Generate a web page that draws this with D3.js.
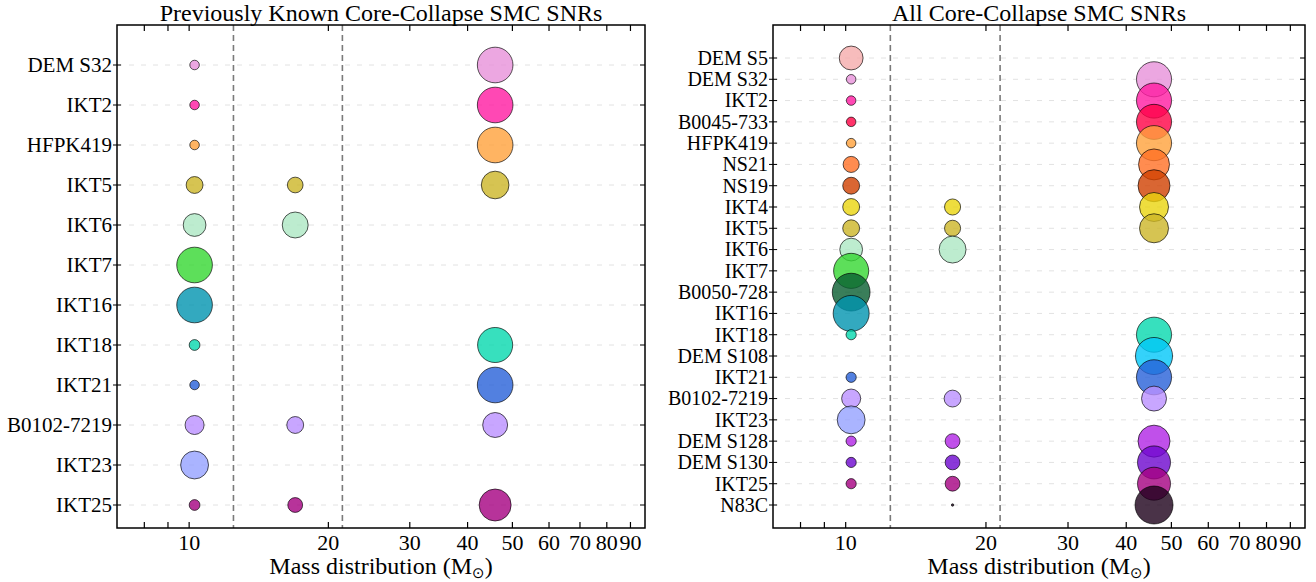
<!DOCTYPE html>
<html>
<head>
<meta charset="utf-8">
<script src="https://cdn.jsdelivr.net/npm/d3@7"></script>
<style>
  body { margin: 0; background: #fff; }
  svg text { font-family: "Liberation Serif", "DejaVu Serif", serif; fill: #000; }
</style>
</head>
<body>
<div id="chart"></div>
<script>
// mass bins (x position of each bubble column) and the bin boundaries
const massBins = [10.3, 17.0, 46.0];
const binEdges = [12.5, 21.5];
const xTicks = [10, 20, 30, 40, 50, 60, 70, 80, 90];
const xMinorTicks = [8, 9];

// left panel: previously known SNRs, fraction in each bin (area of bubble)
const knownNames = ["DEM S32", "IKT2", "HFPK419", "IKT5", "IKT6", "IKT7", "IKT16",
  "IKT18", "IKT21", "B0102-7219", "IKT23", "IKT25"];
const knownLow  = [0.07, 0.07, 0.07, 0.22, 0.40, 0.98, 0.98, 0.09, 0.07, 0.28, 0.60, 0.09];
const knownMid  = [0,    0,    0,    0.19, 0.52, 0,    0,    0,    0,    0.22, 0,    0.17];
const knownHigh = [0.98, 0.98, 0.98, 0.59, 0,    0,    0,    0.95, 0.98, 0.48, 0,    0.79];

// right panel: all core-collapse SNRs
const allNames = ["DEM S5", "DEM S32", "IKT2", "B0045-733", "HFPK419", "NS21", "NS19",
  "IKT4", "IKT5", "IKT6", "IKT7", "B0050-728", "IKT16", "IKT18", "DEM S108", "IKT21",
  "B0102-7219", "IKT23", "DEM S128", "DEM S130", "IKT25", "N83C"];
const allLow  = [0.44, 0.07, 0.07, 0.07, 0.07, 0.20, 0.22, 0.22, 0.22, 0.40, 0.95, 1.10,
  1.00, 0.08, 0, 0.08, 0.28, 0.60, 0.08, 0.08, 0.08, 0];
const allMid  = [0, 0, 0, 0, 0, 0, 0, 0.20, 0.20, 0.56, 0, 0,
  0, 0, 0, 0, 0.22, 0, 0.17, 0.17, 0.17, 0.003];
const allHigh = [0, 0.95, 0.95, 0.95, 0.95, 0.74, 0.79, 0.65, 0.65, 0, 0, 0,
  0, 0.95, 1.06, 0.95, 0.48, 0, 0.79, 0.84, 0.84, 1.11];

// colour of each SNR as it appears on white
const palette = {
  "DEM S5": "#f7bcbc", "DEM S32": "#eca7e1", "IKT2": "#ff48b4", "B0045-733": "#ff2d6a",
  "HFPK419": "#ffb462", "NS21": "#ff8c50", "NS19": "#d96632", "IKT4": "#eedd3e",
  "IKT5": "#d6c452", "IKT6": "#bdeccf", "IKT7": "#5ddf5a", "B0050-728": "#3a7e5a",
  "IKT16": "#31a9bf", "IKT18": "#37e0be", "DEM S108": "#34d2fa", "IKT21": "#5280e0",
  "B0102-7219": "#c8a6ff", "IKT23": "#aab4ff", "DEM S128": "#c050ea", "DEM S130": "#8a38d8",
  "IKT25": "#b7329a", "N83C": "#4a3048"
};
const alpha = 0.8;
// turn the on-white colour back into the colour that gives it at this alpha
const baseColor = c => {
  const r = d3.rgb(c);
  const f = v => Math.max(0, Math.min(255, (v - 255 * (1 - alpha)) / alpha));
  return d3.rgb(f(r.r), f(r.g), f(r.b)).formatHex();
};

const svg = d3.select("#chart").append("svg")
    .attr("width", 1316)
    .attr("height", 582);

const rScale = d3.scaleSqrt().domain([0, 1]).range([0, 18]);

function drawPanel(opts) {
  const width = opts.width, height = opts.height;
  const g = svg.append("g")
      .attr("transform", "translate(" + opts.left + "," + opts.top + ")");

  const xScale = d3.scaleLog().domain([7, 97]).range([0, width]);
  const yScale = d3.scalePoint().domain(opts.names)
      .range([opts.padTop, height - opts.padBottom]);

  // horizontal grid lines
  g.append("g").selectAll("line")
    .data(opts.names)
    .join("line")
      .attr("x1", 0).attr("x2", width)
      .attr("y1", d => yScale(d)).attr("y2", d => yScale(d))
      .attr("stroke", "#e2e2e2")
      .attr("stroke-width", 1)
      .attr("stroke-dasharray", "5,7");

  // bin boundaries
  g.append("g").selectAll("line")
    .data(binEdges)
    .join("line")
      .attr("x1", d => xScale(d)).attr("x2", d => xScale(d))
      .attr("y1", 0).attr("y2", height)
      .attr("stroke", "#7a7a7a")
      .attr("stroke-width", 1.6)
      .attr("stroke-dasharray", "6,4");

  // bubbles
  const points = [];
  opts.names.forEach((n, i) => {
    [opts.low[i], opts.mid[i], opts.high[i]].forEach((v, j) => {
      if (v > 0) points.push({name: n, mass: massBins[j], value: v});
    });
  });
  g.append("g").selectAll("circle")
    .data(points)
    .join("circle")
      .attr("cx", d => xScale(d.mass))
      .attr("cy", d => yScale(d.name))
      .attr("r", d => Math.max(1.2, rScale(d.value)))
      .attr("fill", d => baseColor(palette[d.name]))
      .attr("fill-opacity", alpha)
      .attr("stroke", "#000")
      .attr("stroke-opacity", 0.65)
      .attr("stroke-width", 1);

  // bottom axis, ticks pointing in
  g.append("g")
      .attr("class", "x axis")
      .attr("transform", "translate(0," + height + ")")
      .call(d3.axisBottom(xScale).tickValues(xTicks).tickFormat(d3.format("d"))
        .tickSize(-6).tickPadding(6));
  g.append("g")
      .attr("transform", "translate(0," + height + ")")
      .call(d3.axisBottom(xScale).tickValues(xMinorTicks).tickFormat("").tickSize(-6));
  g.append("g")
      .call(d3.axisTop(xScale).tickValues(xTicks.concat(xMinorTicks)).tickFormat("").tickSize(-6));

  // y axes
  g.append("g")
      .attr("class", "y axis")
      .call(d3.axisLeft(yScale).tickSize(0).tickPadding(5));
  g.append("g").selectAll("line")
    .data(opts.names)
    .join("line")
      .attr("x1", -4).attr("x2", 4)
      .attr("y1", d => yScale(d)).attr("y2", d => yScale(d))
      .attr("stroke", "#000");
  g.append("g").selectAll("line")
    .data(opts.names)
    .join("line")
      .attr("x1", width - 5).attr("x2", width)
      .attr("y1", d => yScale(d)).attr("y2", d => yScale(d))
      .attr("stroke", "#000");

  g.selectAll(".domain").remove();
  g.selectAll(".tick line").attr("stroke", "#000").attr("stroke-width", 1.2);
  g.selectAll(".tick text").attr("font-family", "Liberation Serif");
  g.selectAll(".x.axis .tick text").attr("font-size", 22);
  g.selectAll(".y.axis .tick text").attr("font-size", opts.labelSize);

  // frame
  g.append("rect")
      .attr("width", width).attr("height", height)
      .attr("fill", "none")
      .attr("stroke", "#000")
      .attr("stroke-width", 1.5);

  g.append("text")
      .attr("x", width / 2).attr("y", -4)
      .attr("text-anchor", "middle")
      .attr("font-size", 24)
      .text(opts.title);

  const xl = g.append("text")
      .attr("x", width / 2).attr("y", height + 46)
      .attr("text-anchor", "middle")
      .attr("font-size", 24);
  xl.append("tspan").text("Mass distribution (M");
  xl.append("tspan").attr("font-family", "DejaVu Sans").attr("font-size", 15)
      .attr("dy", 4).text("\u2299");
  xl.append("tspan").attr("dy", -4).text(")");
}

drawPanel({
  title: "Previously Known Core-Collapse SMC SNRs",
  names: knownNames, low: knownLow, mid: knownMid, high: knownHigh,
  left: 117, top: 25, width: 528, height: 503, padTop: 40, padBottom: 23, labelSize: 21
});

drawPanel({
  title: "All Core-Collapse SMC SNRs",
  names: allNames, low: allLow, mid: allMid, high: allHigh,
  left: 773, top: 25, width: 532, height: 503, padTop: 33, padBottom: 23, labelSize: 20
});
</script>
</body>
</html>
